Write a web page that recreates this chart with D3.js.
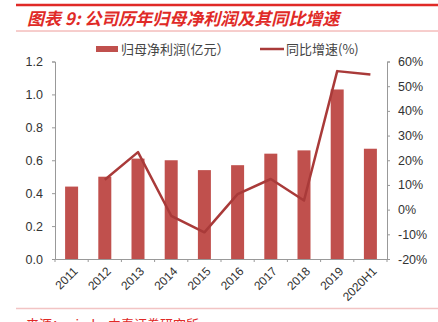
<!DOCTYPE html>
<html>
<head>
<meta charset="utf-8">
<script src="https://cdn.jsdelivr.net/npm/d3@7"></script>
<title>归母净利润及同比增速</title>
<style>
body { margin:0; background:#fff; }
svg text { font-family: "Liberation Sans", Arial, sans-serif; }
</style>
</head>
<body>
<div id="chart"></div>
<script>
(function(){

var years = ["2011","2012","2013","2014","2015","2016","2017","2018","2019","2020H1"];
var profit = [0.44, 0.50, 0.61, 0.60, 0.54, 0.57, 0.64, 0.66, 1.03, 0.67];   // 亿元
var growth = [null, 12.1, 23.3, -2.5, -9.2, 6.3, 12.4, 3.7, 56.1, 54.7];     // %
var leftTicks = [0, 0.2, 0.4, 0.6, 0.8, 1.0, 1.2];
var rightTicks = [-20, -10, 0, 10, 20, 30, 40, 50, 60];

var w = 438, h = 322;
var left = 55, right = 387, top = 61.5, bottom = 259;
var barColor = "#C0504D", lineColor = "#A93A39", red = "#E02A27";

var svg = d3.select("#chart").append("svg")
    .attr("width", w).attr("height", h);

// title block
svg.append("line").attr("x1", 16).attr("x2", w).attr("y1", 5).attr("y2", 5)
   .attr("stroke", red).attr("stroke-width", 2.5);
svg.append("text").attr("x", 27).attr("y", 25)
   .attr("fill", red).attr("font-size", 17).attr("font-weight", "bold")
   .attr("font-style", "italic")
   .style("font-family", "'Noto Sans CJK SC', sans-serif")
   .text("图表 9:  公司历年归母净利润及其同比增速");
svg.append("line").attr("x1", 16).attr("x2", w).attr("y1", 31).attr("y2", 31)
   .attr("stroke", "#EE9C9A").attr("stroke-width", 1);

var x = d3.scaleBand().domain(years).range([left, right]).paddingInner(0.6).paddingOuter(0.3);
var xb = d3.scaleBand().domain(years).range([left, right]);
var y = d3.scaleLinear().domain([0, 1.2]).range([bottom, top]);
var y2 = d3.scaleLinear().domain([-20, 60]).range([bottom, top]);

// bars
svg.selectAll("rect.bar").data(profit).enter().append("rect")
   .attr("class", "bar")
   .attr("x", function(d, i){ return xb(years[i]) + xb.bandwidth()/2 - 6.5; })
   .attr("width", 13)
   .attr("y", function(d){ return y(d); })
   .attr("height", function(d){ return bottom - y(d); })
   .attr("fill", barColor);

// growth line
var line = d3.line()
   .defined(function(d){ return d != null; })
   .x(function(d, i){ return xb(years[i]) + xb.bandwidth()/2; })
   .y(function(d){ return y2(d); });
svg.append("path").datum(growth)
   .attr("d", line).attr("fill", "none")
   .attr("stroke", lineColor).attr("stroke-width", 2.5)
   .attr("stroke-linejoin", "round");

// axes
var axisColor = "#999";
var gl = svg.append("g").attr("transform", "translate(" + left + ",0)")
   .call(d3.axisLeft(y).tickValues(leftTicks).tickFormat(d3.format(".1f")).tickSizeOuter(0).tickSize(3).tickPadding(9));
var gr = svg.append("g").attr("transform", "translate(" + right + ",0)")
   .call(d3.axisRight(y2).tickValues(rightTicks).tickFormat(function(d){ return d + "%"; }).tickSizeOuter(0).tickSize(3).tickPadding(8));
var gx = svg.append("g").attr("transform", "translate(0," + bottom + ")")
   .call(d3.axisBottom(xb).tickSize(0).tickFormat(""));
gx.selectAll(".tick").remove();

// category boundary ticks
svg.selectAll("line.xt").data(d3.range(years.length + 1)).enter().append("line")
   .attr("class", "xt")
   .attr("x1", function(i){ return left + i * xb.step(); })
   .attr("x2", function(i){ return left + i * xb.step(); })
   .attr("y1", bottom).attr("y2", bottom + 3)
   .attr("stroke", axisColor);

[gl, gr, gx].forEach(function(g){
  g.selectAll("path, line").attr("stroke", axisColor);
  g.selectAll("text").attr("fill", "#333").attr("font-size", 12.5)
   .style("font-family", "'Liberation Sans', Arial, sans-serif");
});

// rotated category labels
svg.selectAll("text.xl").data(years).enter().append("text")
   .attr("class", "xl")
   .attr("transform", function(d){
      return "translate(" + (xb(d) + xb.bandwidth()/2 + 4) + "," + (bottom + 10) + ") rotate(-45)";
   })
   .attr("text-anchor", "end").attr("dy", "0.35em")
   .attr("font-size", 12).attr("fill", "#333")
   .text(function(d){ return d; });

// legend
svg.append("rect").attr("x", 96).attr("y", 46).attr("width", 22).attr("height", 6).attr("fill", barColor);
svg.append("text").attr("x", 121).attr("y", 54).attr("font-size", 13).attr("fill", "#444")
   .style("font-family", "'Noto Sans CJK SC', sans-serif").text("归母净利润(亿元）");
svg.append("line").attr("x1", 260).attr("x2", 284).attr("y1", 49).attr("y2", 49)
   .attr("stroke", lineColor).attr("stroke-width", 2.5);
svg.append("text").attr("x", 286).attr("y", 54).attr("font-size", 13).attr("fill", "#444")
   .style("font-family", "'Noto Sans CJK SC', sans-serif").text("同比增速(%)");

// source
svg.append("line").attr("x1", 16).attr("x2", w).attr("y1", 308.5).attr("y2", 308.5)
   .attr("stroke", "#F2C4C4").attr("stroke-width", 1.5);
svg.append("text").attr("x", 26).attr("y", 329).attr("font-size", 13).attr("fill", red)
   .style("font-family", "'Noto Sans CJK SC', sans-serif").text("来源：wind，中泰证券研究所");

})();
</script>
</body>
</html>
